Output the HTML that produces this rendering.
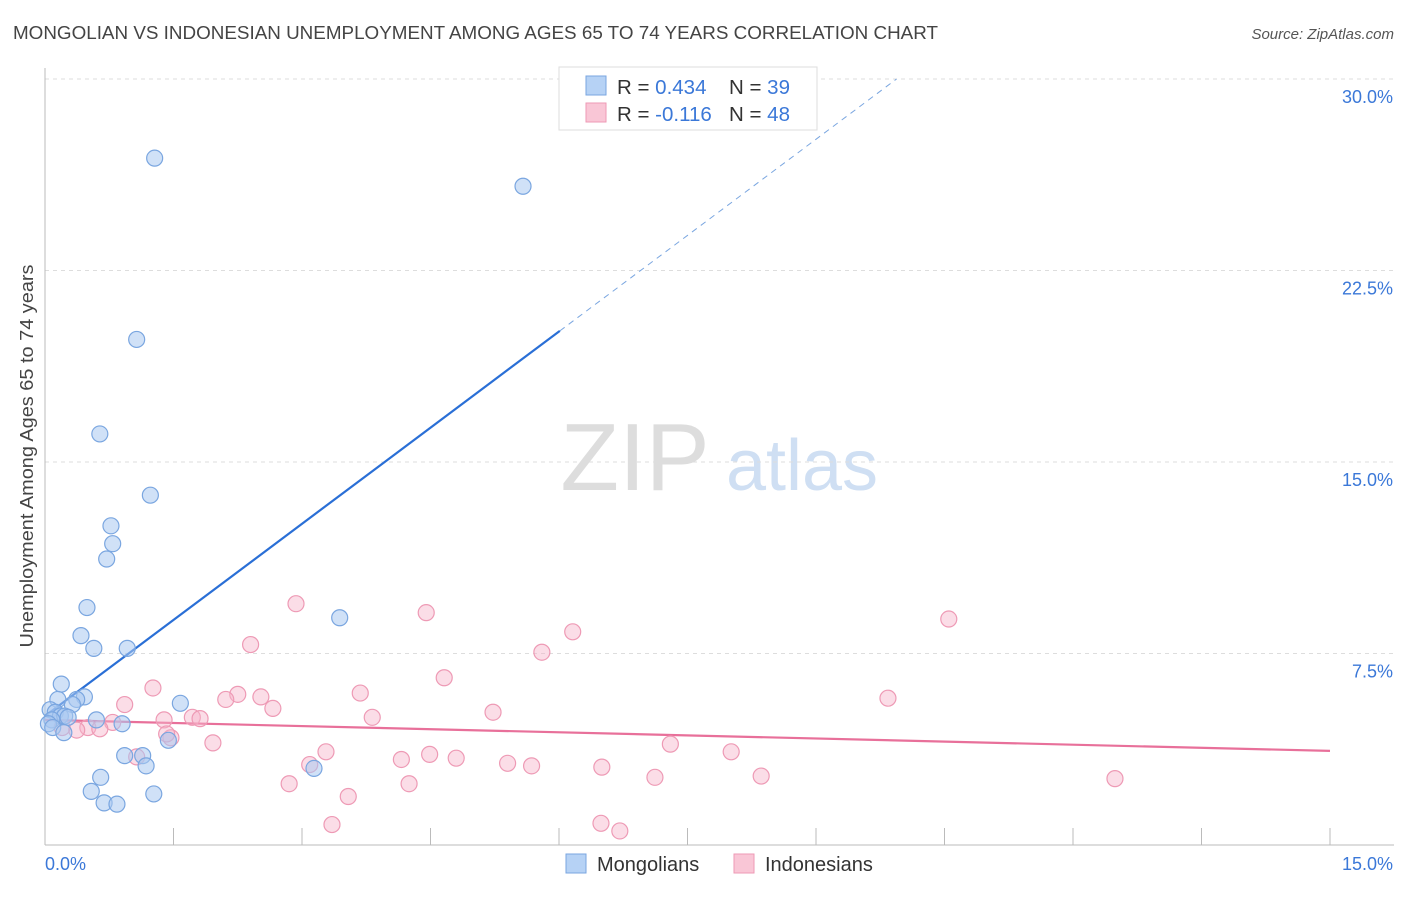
<!DOCTYPE html>
<html><head><meta charset="utf-8">
<style>
body{margin:0;background:#fff;font-family:"Liberation Sans",sans-serif;}
svg text{font-family:"Liberation Sans",sans-serif;}
</style></head>
<body>
<svg id="chart" width="1406" height="892" xmlns="http://www.w3.org/2000/svg">
<text x="13" y="39" font-size="18.5" fill="#444" textLength="925" lengthAdjust="spacingAndGlyphs">MONGOLIAN VS INDONESIAN UNEMPLOYMENT AMONG AGES 65 TO 74 YEARS CORRELATION CHART</text>
<text x="1394" y="39" font-size="15" fill="#555" text-anchor="end" font-style="italic">Source: ZipAtlas.com</text>
<text transform="translate(33,456) rotate(-90)" font-size="18.5" fill="#444" text-anchor="middle" textLength="383" lengthAdjust="spacingAndGlyphs">Unemployment Among Ages 65 to 74 years</text>
<g>
<text x="635" y="490" font-size="96" fill="#ddd" text-anchor="middle" font-family="Liberation Serif,serif">ZIP</text>
<text x="802" y="490" font-size="72" fill="#cfdff3" text-anchor="middle">atlas</text>
</g>
<g id="grid"></g><g id="axes"></g><g id="lines"></g><g id="pts"></g>
<g>
<rect x="559" y="67" width="258" height="63" fill="#fff" stroke="#ddd"/>
<rect x="586" y="76" width="20" height="19" fill="#b6d2f5" stroke="#7aa6e0"/>
<rect x="586" y="103" width="20" height="19" fill="#f9c6d6" stroke="#ee9ab5"/>
<text x="617" y="94" font-size="20.5" fill="#333">R = <tspan fill="#3b78d8">0.434</tspan><tspan x="729">N = </tspan><tspan fill="#3b78d8">39</tspan></text>
<text x="617" y="121" font-size="20.5" fill="#333">R = <tspan fill="#3b78d8">-0.116</tspan><tspan x="729">N = </tspan><tspan fill="#3b78d8">48</tspan></text>
</g>
<g>
<rect x="566" y="854" width="20" height="19" fill="#b6d2f5" stroke="#7aa6e0"/>
<text x="597" y="871" font-size="20" fill="#333">Mongolians</text>
<rect x="734" y="854" width="20" height="19" fill="#f9c6d6" stroke="#ee9ab5"/>
<text x="765" y="871" font-size="20" fill="#333">Indonesians</text>
</g>
</svg>
<script>
const yTicks=[7.5,15,22.5,30];
const yTickLabels=["7.5%","15.0%","22.5%","30.0%"];
const xEndLabels=["0.0%","15.0%"];
const blueX=[1.28,5.58,1.07,0.64,1.23,0.77,0.79,0.72,0.49,0.42,0.57,0.96,3.44,0.19,0.46,0.15,0.37,0.32,0.06,0.12,0.18,0.23,0.08,0.04,0.27,0.09,0.22,0.60,0.90,1.58,0.93,1.14,1.18,1.44,0.65,3.14,0.54,0.69,0.84,1.27];
const blueY=[26.9,25.8,19.8,16.1,13.7,12.5,11.8,11.2,9.3,8.2,7.7,7.7,8.9,6.3,5.8,5.7,5.7,5.5,5.3,5.2,5.05,5.05,4.9,4.75,5.0,4.6,4.4,4.9,4.75,5.55,3.5,3.5,3.1,4.1,2.65,3.0,2.1,1.65,1.6,2.0];
const pinkX=[2.93,4.45,10.55,6.16,2.40,5.80,4.66,1.26,3.68,2.25,2.52,2.11,9.84,0.93,2.66,5.23,1.39,1.72,1.81,3.82,0.79,0.50,0.64,0.37,0.20,1.47,1.96,1.07,3.28,7.30,8.01,4.49,4.80,4.16,3.09,5.40,5.68,6.50,7.12,8.36,12.49,2.85,4.25,3.54,3.35,6.49,6.71,1.42];
const pinkY=[9.45,9.1,8.85,8.35,7.85,7.55,6.55,6.15,5.95,5.9,5.8,5.7,5.75,5.5,5.35,5.2,4.9,5.0,4.95,5.0,4.8,4.6,4.55,4.5,4.6,4.2,4.0,3.45,3.65,3.95,3.65,3.55,3.4,3.35,3.15,3.2,3.1,3.05,2.65,2.7,2.6,2.4,2.4,1.9,0.8,0.85,0.55,4.35];
const blueTrend=[5.05,2.51];   // intercept, slope
const pinkTrend=[4.9,-0.081];
const NS="http://www.w3.org/2000/svg";
const X0=45,X1=1330,Y0=845,Y30=79;
const sx=v=>X0+(X1-X0)*v/15;
const sy=v=>Y0-(Y0-Y30)*v/30;
function mk(tag,attrs,parent){const e=document.createElementNS(NS,tag);for(const k in attrs)e.setAttribute(k,attrs[k]);document.getElementById(parent).appendChild(e);return e;}
yTicks.forEach((t,i)=>{
  const g=mk('line',{x1:X0,x2:1394,y1:sy(t),y2:sy(t),stroke:'#ddd','stroke-dasharray':'4,4'},'grid');
  
  
  const l=mk('text',{x:1393,y:sy(t)+24,'font-size':18,fill:'#3b78d8','text-anchor':'end'},'grid');
  l.textContent=yTickLabels[i];
  
  
});
const ax=mk('line',{x1:X0,x2:X0,y1:68,y2:Y0,stroke:'#bbb'},'axes');


const bx=mk('line',{x1:X0,x2:1394,y1:Y0,y2:Y0,stroke:'#bbb'},'axes');


for(let i=1;i<=10;i++){
  const t=mk('line',{x1:sx(i*1.5),x2:sx(i*1.5),y1:828,y2:Y0,stroke:'#bbb'},'axes');
  
  
}
const xl0=mk('text',{x:45,y:870,'font-size':18,fill:'#3b78d8'},'axes');xl0.textContent=xEndLabels[0];


const xl1=mk('text',{x:1393,y:870,'font-size':18,fill:'#3b78d8','text-anchor':'end'},'axes');xl1.textContent=xEndLabels[1];


const bEnd=6.01, bTop=(30-blueTrend[0])/blueTrend[1];
const bl=mk('line',{x1:sx(0),y1:sy(blueTrend[0]),x2:sx(bEnd),y2:sy(blueTrend[0]+blueTrend[1]*bEnd),stroke:'#2a6fd6','stroke-width':2.2},'lines');


const bd=mk('line',{x1:sx(bEnd),y1:sy(blueTrend[0]+blueTrend[1]*bEnd),x2:sx(bTop),y2:sy(30),stroke:'#7aa6e0','stroke-width':1,'stroke-dasharray':'6,5'},'lines');


const pl=mk('line',{x1:sx(0),y1:sy(pinkTrend[0]),x2:sx(15),y2:sy(pinkTrend[0]+pinkTrend[1]*15),stroke:'#e8709a','stroke-width':2.2},'lines');


pinkX.forEach((x,i)=>{
  const c=mk('circle',{cx:sx(x),cy:sy(pinkY[i]),r:8,fill:'rgba(247,180,202,0.45)',stroke:'#ee9ab5','stroke-width':1.2},'pts');
  
  
});
blueX.forEach((x,i)=>{
  const c=mk('circle',{cx:sx(x),cy:sy(blueY[i]),r:8,fill:'rgba(170,200,240,0.55)',stroke:'#7aa6e0','stroke-width':1.2},'pts');
  
  
});
</script>
</body></html>
